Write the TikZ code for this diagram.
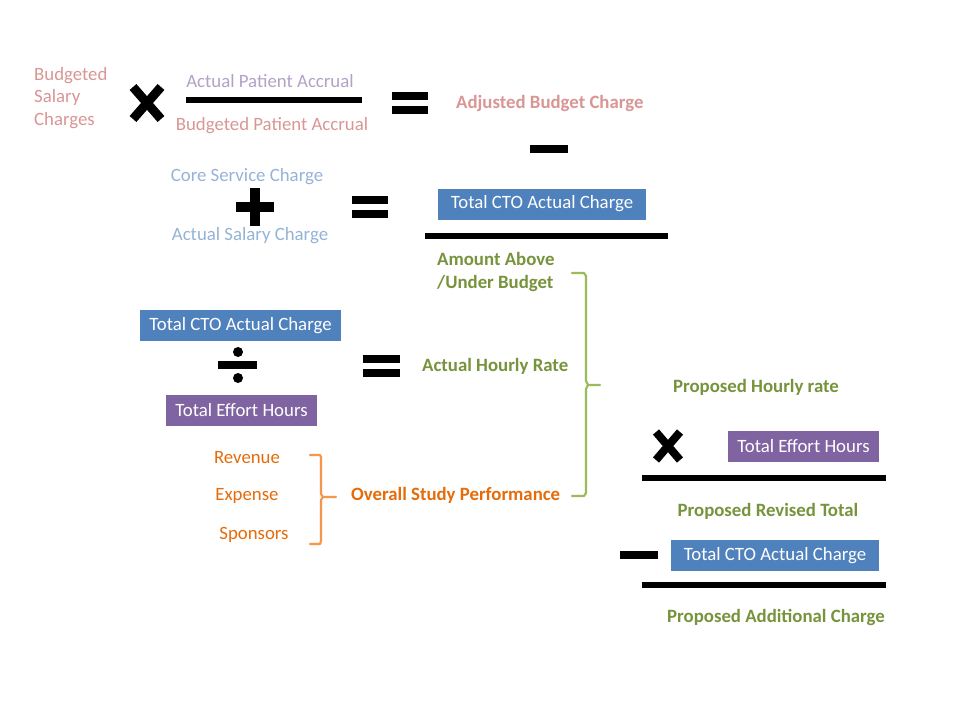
\documentclass[tikz,border=0pt]{standalone}
\usepackage{fontspec}
\setmainfont{Carlito}
\definecolor{pinkt}{HTML}{D99694}
\definecolor{lavt}{HTML}{B3A2C7}
\definecolor{bluet}{HTML}{95B3D7}
\definecolor{greent}{HTML}{77933C}
\definecolor{greenl}{HTML}{9BBB59}
\definecolor{oranget}{HTML}{E46C0A}
\definecolor{orangel}{HTML}{F79646}
\definecolor{boxblue}{HTML}{4F81BD}
\definecolor{boxpurple}{HTML}{8064A2}
\tikzset{
  lbl/.style={inner sep=0pt, font=\fontsize{18.8}{22.5}\selectfont},
  blbl/.style={inner sep=0pt, font=\fontsize{18.8}{23}\selectfont\bfseries},
  bluebox/.style={fill=boxblue, text=white, inner sep=0pt, minimum width=208pt, minimum height=31pt, font=\fontsize{18.8}{22}\selectfont},
  purplebox/.style={fill=boxpurple, text=white, inner sep=0pt, minimum width=151pt, minimum height=31pt, font=\fontsize{18.8}{22}\selectfont},
  bar/.style={line width=6pt, black},
  opline/.style={line width=9pt, black},
  brace/.style={line width=2.2pt, line join=round, line cap=round}
}
\begin{document}
\begin{tikzpicture}[x=1pt,y=-1pt]
\useasboundingbox (0,0) rectangle (960,720);
\fill[white] (0,0) rectangle (960,720);
% Row 1
\node[lbl, text=pinkt, anchor=west, align=left] (bsc) at (34,98) {Budgeted\\Salary\\Charges};
\draw[opline] (133,87) -- (161,119) (161,87) -- (133,119);
\node[lbl, text=lavt] (apa) at (270,81) {Actual Patient Accrual};
\draw[bar] (186,100) -- (362,100);
\node[lbl, text=pinkt] (bpa) at (272,126) {Budgeted Patient Accrual};
\draw[opline,line width=8pt] (392,96) -- (428,96) (392,110) -- (428,110);
\node[blbl, text=pinkt, anchor=west] (abc) at (456,103) {Adjusted Budget Charge};
\draw[opline,line width=8pt] (530,149) -- (568,149);
% Row 2
\node[lbl, text=bluet] (csc) at (247,177) {Core Service Charge};
\draw[opline,line width=10pt] (236,207) -- (274,207) (255,188) -- (255,226);
\node[lbl, text=bluet] (asc) at (250,236) {Actual Salary Charge};
\draw[opline,line width=8pt] (352,200) -- (388,200) (352,214) -- (388,214);
\node[bluebox] (tcto1) at (542,204) {Total CTO Actual Charge};
\draw[bar] (425,236) -- (668,236);
\node[blbl, text=greent, anchor=west, align=left] (aub) at (437,271.5) {Amount Above\\/Under Budget};
% Row 3
\node[bluebox, minimum width=201pt] (tcto2) at (240.5,325.5) {Total CTO Actual Charge};
\draw[opline,line width=8pt] (218,365) -- (257,365);
\fill (238,352) circle (5pt) (238,378) circle (5pt);
\node[purplebox] (teh1) at (241.5,410) {Total Effort Hours};
\draw[opline,line width=8pt] (363,359) -- (400,359) (363,373) -- (400,373);
\node[blbl, text=greent, anchor=west] (ahr) at (422,366) {Actual Hourly Rate};
% Orange items
\node[lbl, text=oranget] (rev) at (247,458) {Revenue};
\node[lbl, text=oranget] (exp) at (247,496) {Expense};
\node[lbl, text=oranget] (spo) at (254,535) {Sponsors};
\draw[brace, orangel] (310,455) -- (320,455) -- (321,457) -- (321,494) -- (323,497) -- (336,497)
  (323,497) -- (321,500) -- (321,541) -- (320,544) -- (310,544);
\node[blbl, text=oranget, anchor=west] (osp) at (351,495) {Overall Study Performance};
% Green brace
\draw[brace, greenl] (572,273) -- (584,273) -- (586,276) -- (586,381) -- (588,385) -- (600,385)
  (588,385) -- (586,389) -- (586,493) -- (584,496) -- (572,496);
% Right part
\node[blbl, text=greent] (phr) at (756,387) {Proposed Hourly rate};
\draw[opline,line width=8pt] (656,432) -- (680,460) (680,432) -- (656,460);
\node[purplebox] (teh2) at (803.5,446) {Total Effort Hours};
\draw[bar] (642,478) -- (886,478);
\node[blbl, text=greent] (prt) at (768,511) {Proposed Revised Total};
\draw[opline,line width=8pt] (620,555) -- (658,555);
\node[bluebox] (tcto3) at (775,555.5) {Total CTO Actual Charge};
\draw[bar] (642,585) -- (886,585);
\node[blbl, text=greent] (pac) at (776,617) {Proposed Additional Charge};
\end{tikzpicture}
\end{document}
